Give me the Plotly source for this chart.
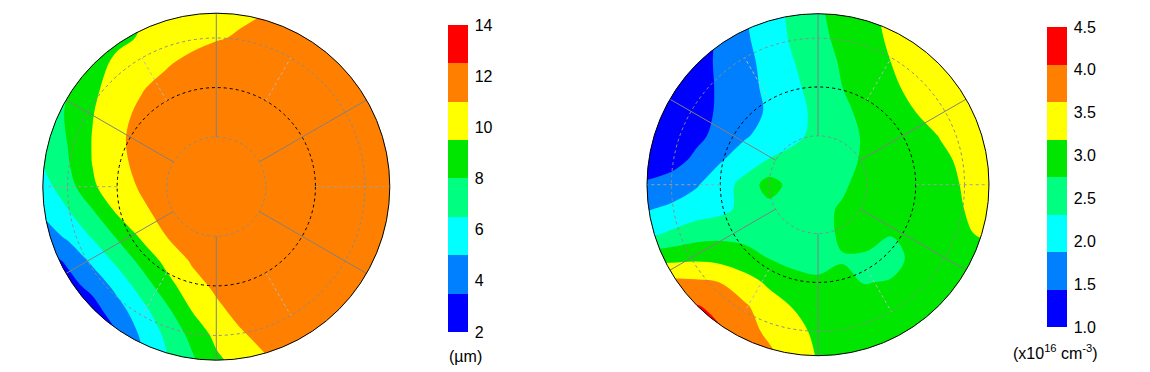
import numpy as np
import plotly.graph_objects as go

# ---------------- data ----------------
grid_x = [-3.5, -3.0, -2.5, -2.0, -1.5, -1.0, -0.5, 0.0, 0.5, 1.0, 1.5, 2.0, 2.5, 3.0, 3.5]
grid_y = [3.5, 3.0, 2.5, 2.0, 1.5, 1.0, 0.5, 0.0, -0.5, -1.0, -1.5, -2.0, -2.5, -3.0, -3.5]

# thickness map (um), rows top -> bottom
thickness_um = [
    [8.00, 8.39, 8.79, 9.18, 9.45, 9.80, 10.12, 10.42, 10.70, 11.00, 11.50, 12.05, 12.20, 12.20, 12.20],
    [7.86, 8.38, 8.84, 9.25, 9.60, 10.05, 10.46, 10.85, 11.20, 11.90, 12.20, 12.25, 12.25, 12.20, 12.20],
    [7.59, 8.30, 9.05, 9.72, 10.28, 10.83, 11.42, 12.02, 12.20, 12.25, 12.30, 12.30, 12.25, 12.20, 12.20],
    [7.32, 8.00, 9.21, 10.10, 10.89, 11.52, 12.10, 12.20, 12.25, 12.30, 12.30, 12.30, 12.25, 12.20, 12.20],
    [7.20, 8.13, 9.42, 10.50, 11.32, 11.92, 12.20, 12.25, 12.30, 12.30, 12.30, 12.30, 12.25, 12.20, 12.20],
    [7.01, 8.06, 9.55, 10.74, 11.47, 12.07, 12.20, 12.25, 12.30, 12.30, 12.30, 12.30, 12.25, 12.20, 12.20],
    [6.63, 7.88, 9.54, 10.65, 11.41, 12.00, 12.20, 12.25, 12.30, 12.30, 12.30, 12.30, 12.25, 12.20, 12.20],
    [5.92, 7.33, 9.29, 10.34, 11.18, 11.78, 12.20, 12.25, 12.30, 12.30, 12.30, 12.30, 12.25, 12.20, 12.20],
    [5.23, 6.38, 7.85, 9.71, 10.75, 11.46, 12.05, 12.20, 12.25, 12.30, 12.30, 12.30, 12.25, 12.20, 12.20],
    [4.14, 5.27, 6.65, 8.17, 9.76, 11.02, 11.62, 12.05, 12.20, 12.25, 12.30, 12.30, 12.25, 12.20, 12.20],
    [2.80, 3.70, 5.30, 6.83, 8.45, 9.92, 11.14, 11.74, 12.10, 12.20, 12.25, 12.25, 12.20, 12.20, 12.20],
    [2.60, 3.00, 3.90, 5.50, 7.17, 8.94, 10.38, 11.30, 11.85, 12.15, 12.20, 12.20, 12.20, 12.20, 12.20],
    [2.20, 2.60, 2.90, 4.33, 6.00, 7.67, 9.50, 10.65, 11.50, 12.00, 12.20, 12.20, 12.20, 12.20, 12.20],
    [2.00, 2.30, 2.70, 3.35, 5.25, 6.80, 8.38, 9.88, 10.81, 11.50, 12.00, 12.20, 12.20, 12.20, 12.20],
    [2.00, 2.30, 2.70, 3.20, 4.79, 6.35, 7.73, 9.20, 10.10, 10.85, 11.60, 12.10, 12.20, 12.20, 12.20],
]

# carrier concentration map (x1e16 cm^-3), rows top -> bottom
doping_1e16 = [
    [1.05, 1.06, 1.30, 1.57, 1.85, 2.13, 2.41, 2.69, 2.90, 3.09, 3.29, 3.38, 3.45, 3.50, 3.50],
    [1.00, 1.10, 1.28, 1.50, 1.81, 2.09, 2.38, 2.64, 2.86, 3.05, 3.25, 3.40, 3.48, 3.50, 3.50],
    [1.00, 1.10, 1.25, 1.52, 1.75, 2.02, 2.30, 2.55, 2.80, 2.99, 3.19, 3.35, 3.45, 3.50, 3.50],
    [1.00, 1.08, 1.25, 1.50, 1.73, 1.975, 2.23, 2.48, 2.75, 2.94, 3.12, 3.30, 3.42, 3.48, 3.50],
    [1.00, 1.10, 1.28, 1.50, 1.71, 1.93, 2.17, 2.42, 2.67, 2.86, 3.03, 3.19, 3.35, 3.45, 3.50],
    [1.05, 1.15, 1.32, 1.58, 1.83, 2.03, 2.22, 2.42, 2.63, 2.80, 2.94, 3.07, 3.20, 3.38, 3.45],
    [1.10, 1.25, 1.54, 1.84, 2.10, 2.34, 2.45, 2.56, 2.68, 2.79, 2.90, 3.01, 3.12, 3.25, 3.35],
    [1.52, 1.65, 1.83, 2.12, 2.45, 2.95, 2.58, 2.62, 2.71, 2.86, 2.93, 3.00, 3.10, 3.21, 3.30],
    [1.85, 1.95, 2.10, 2.20, 2.42, 2.60, 2.62, 2.68, 2.78, 2.92, 2.98, 3.02, 3.08, 3.19, 3.22],
    [2.20, 2.38, 2.55, 2.62, 2.65, 2.62, 2.62, 2.68, 2.78, 2.88, 2.77, 2.95, 3.05, 3.15, 3.25],
    [3.00, 3.05, 3.10, 3.05, 2.87, 2.74, 2.62, 2.60, 2.74, 2.70, 2.60, 2.87, 2.95, 3.00, 3.05],
    [3.95, 3.75, 3.70, 3.62, 3.40, 3.10, 2.90, 2.82, 2.78, 2.74, 2.78, 2.90, 2.97, 3.02, 3.05],
    [4.10, 4.05, 4.10, 3.95, 3.68, 3.42, 3.17, 2.98, 2.90, 2.88, 2.90, 2.95, 3.00, 3.05, 3.10],
    [4.10, 4.10, 4.10, 4.10, 3.80, 3.53, 3.30, 3.11, 2.98, 2.93, 2.93, 2.95, 3.00, 3.05, 3.10],
    [4.10, 4.10, 4.10, 4.10, 4.00, 3.72, 3.45, 3.15, 3.00, 2.98, 2.96, 2.98, 3.00, 3.05, 3.10],
]

thick_range = [2.0, 14.0]
thick_ticks = [2, 4, 6, 8, 10, 12, 14]
dop_range = [1.0, 4.5]
dop_ticks = [1.0, 1.5, 2.0, 2.5, 3.0, 3.5, 4.0, 4.5]
n_bands = 8
band_colors = ["#0000ff", "#0080ff", "#00ffff", "#00ff80",
               "#00e600", "#ffff00", "#ff8000", "#ff0000"]
thick_unit = "(µm)"
dop_unit = "(x10<sup>16</sup> cm<sup>-3</sup>)"

# wafer grid (radius 3.5, rings at 1, 2, 3)
wafer_r = 3.5
ring_r = [1.0, 2.0, 3.0]
solid_spokes = [30, 90, 150, 210, 270, 330]
dotted_spokes = [0, 180]
faint_spokes = [60, 120, 240, 300]

# ---------------- figure ----------------
W, H = 1150, 372
FONT = "Liberation Sans, Arial, sans-serif"
FS = 16
pad = 3.56

def domains(cx, cy_top, rpx):
    half = rpx * pad / wafer_r
    cyb = H - cy_top
    return [(cx - half) / W, (cx + half) / W], [(cyb - half) / H, (cyb + half) / H]

dx1, dy1 = domains(216.3, 186.7, 173.5)
dx2, dy2 = domains(818.0, 184.7, 171.0)

def contour_scale():
    return [[j / (n_bands - 1), c] for j, c in enumerate(band_colors)]

def stepped_scale():
    cs = []
    for j, c in enumerate(band_colors):
        cs.append([j / n_bands, c])
        cs.append([(j + 1) / n_bands, c])
    return cs

gy = np.array(grid_y)[::-1]
zt = np.array(thickness_um)[::-1]
zd = np.array(doping_1e16)[::-1]

fig = go.Figure()

def add_map(z, rng, xa, ya):
    size = (rng[1] - rng[0]) / n_bands
    fig.add_trace(go.Contour(
        x=grid_x, y=gy, z=z, xaxis=xa, yaxis=ya,
        autocontour=False,
        contours=dict(start=rng[0] + size, end=rng[1] - size, size=size,
                      coloring="fill", showlines=False),
        colorscale=contour_scale(), showscale=False,
        line=dict(width=0, smoothing=1.0), hoverinfo="skip",
    ))

add_map(zt, thick_range, "x", "y")
add_map(zd, dop_range, "x2", "y2")

def add_bar(rng, ticks, fmt, xa, ya, x_px, top_px, bot_px):
    fig.add_trace(go.Heatmap(
        x=[50, 51], y=[50, 51], z=[[rng[0], rng[1]], [rng[0], rng[1]]],
        xaxis=xa, yaxis=ya, zmin=rng[0], zmax=rng[1],
        colorscale=stepped_scale(), hoverinfo="skip",
        colorbar=dict(
            thickness=20, thicknessmode="pixels",
            len=bot_px - top_px, lenmode="pixels",
            x=x_px / W, xanchor="left", xpad=0,
            y=1 - (top_px + bot_px) / 2 / H, yanchor="middle", ypad=0,
            outlinewidth=0, tickvals=ticks, tickformat=fmt,
            ticks="outside", ticklen=4, tickcolor="rgba(0,0,0,0)",
            tickfont=dict(family=FONT, size=FS, color="black"),
        ),
    ))

add_bar(thick_range, thick_ticks, "d", "x", "y", 448, 25, 332)
add_bar(dop_range, dop_ticks, ".1f", "x2", "y2", 1047, 27, 327)

# wafer decorations
t = np.linspace(0, 2 * np.pi, 361)
shapes = []
for xr, yr in (("x", "y"), ("x2", "y2")):
    circ = " L ".join(f"{wafer_r*np.cos(a):.4f},{wafer_r*np.sin(a):.4f}" for a in t[:-1])
    mask = "M -5,-5 L 5,-5 L 5,5 L -5,5 Z M " + circ + " Z"
    shapes.append(dict(type="path", path=mask, xref=xr, yref=yr, fillrule="evenodd",
                       fillcolor="white", line=dict(width=0), layer="above"))
    for r in ring_r:
        col = "black" if r == 2.0 else "#8a8a8a"
        shapes.append(dict(type="circle", xref=xr, yref=yr, x0=-r, y0=-r, x1=r, y1=r,
                           line=dict(color=col, width=1, dash="dot")))
    for a in solid_spokes:
        ar = np.deg2rad(a)
        shapes.append(dict(type="line", xref=xr, yref=yr,
                           x0=1.0 * np.cos(ar), y0=1.0 * np.sin(ar),
                           x1=wafer_r * np.cos(ar), y1=wafer_r * np.sin(ar),
                           line=dict(color="#808080", width=1)))
    for a in dotted_spokes:
        ar = np.deg2rad(a)
        shapes.append(dict(type="line", xref=xr, yref=yr,
                           x0=2.0 * np.cos(ar), y0=2.0 * np.sin(ar),
                           x1=wafer_r * np.cos(ar), y1=wafer_r * np.sin(ar),
                           line=dict(color="#a0a0a0", width=1, dash="dot")))
    for a in faint_spokes:
        ar = np.deg2rad(a)
        shapes.append(dict(type="line", xref=xr, yref=yr,
                           x0=2.0 * np.cos(ar), y0=2.0 * np.sin(ar),
                           x1=3.0 * np.cos(ar), y1=3.0 * np.sin(ar),
                           line=dict(color="#b8b8b8", width=1, dash="dot")))
    shapes.append(dict(type="circle", xref=xr, yref=yr,
                       x0=-wafer_r, y0=-wafer_r, x1=wafer_r, y1=wafer_r,
                       line=dict(color="black", width=1)))

ax = dict(visible=False, showgrid=False, zeroline=False, fixedrange=True,
          range=[-pad, pad])
fig.update_layout(
    width=W, height=H, margin=dict(l=0, r=0, t=0, b=0, pad=0, autoexpand=False),
    paper_bgcolor="white", plot_bgcolor="white", showlegend=False,
    xaxis=dict(ax, domain=dx1), yaxis=dict(ax, domain=dy1),
    xaxis2=dict(ax, domain=dx2), yaxis2=dict(ax, domain=dy2),
    shapes=shapes,
    annotations=[
        dict(text=thick_unit, x=465 / W, y=1 - 356 / H, xref="paper", yref="paper",
             xanchor="center", yanchor="middle", showarrow=False,
             font=dict(family=FONT, size=FS, color="black")),
        dict(text=dop_unit, x=1055 / W, y=1 - 352 / H, xref="paper", yref="paper",
             xanchor="center", yanchor="middle", showarrow=False,
             font=dict(family=FONT, size=FS, color="black")),
    ],
)

fig.write_html("out.html", config={"displayModeBar": False},
               post_script="document.body.style.margin='0';document.body.style.padding='0';")
